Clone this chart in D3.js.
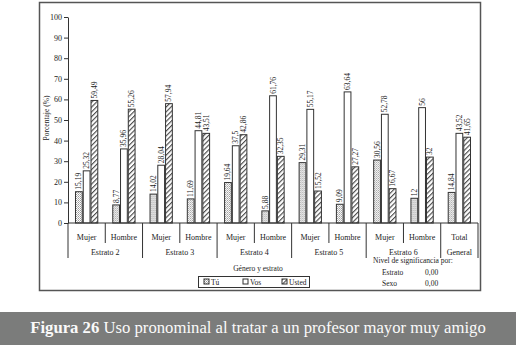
<!DOCTYPE html>
<html lang="es">
<head>
  <meta charset="UTF-8">
  <script src="https://cdn.jsdelivr.net/npm/d3@7"></script>
  <title>Figura 26</title>
  <style>
    body { margin: 0; background: #fff; }
    text { font-family: "Liberation Serif", "Times New Roman", serif; fill: #222; }
  </style>
</head>
<body>
  <svg width="516" height="345" id="chart"></svg>
  <script>
    // data
    const estratos = ["Estrato 2", "Estrato 3", "Estrato 4", "Estrato 5", "Estrato 6", "General"];
    const subgroups = ["Mujer", "Hombre", "Mujer", "Hombre", "Mujer", "Hombre", "Mujer", "Hombre", "Mujer", "Hombre", "Total"];
    const series = ["Tú", "Vos", "Usted"];
    const tu    = [15.19, 8.77, 14.02, 11.69, 19.64, 5.88, 29.31, 9.09, 30.56, 12, 14.84];
    const vos   = [25.32, 35.96, 28.04, 44.81, 37.5, 61.76, 55.17, 63.64, 52.78, 56, 43.52];
    const usted = [59.49, 55.26, 57.94, 43.51, 42.86, 32.35, 15.52, 27.27, 16.67, 32, 41.65];
    const yTicks = [0, 10, 20, 30, 40, 50, 60, 70, 80, 90, 100];

    let svg = d3.select("#chart");

    // patterns for the fills
    let defs = svg.append("defs");
    let dots = defs.append("pattern").attr("id", "pTu")
      .attr("width", 2).attr("height", 2).attr("patternUnits", "userSpaceOnUse");
    dots.append("rect").attr("width", 2).attr("height", 2).attr("fill", "#fff");
    dots.append("rect").attr("width", 1).attr("height", 1).attr("fill", "#9a9a9a");
    dots.append("rect").attr("x", 1).attr("y", 1).attr("width", 1).attr("height", 1).attr("fill", "#bbb");

    let hatch = defs.append("pattern").attr("id", "pUsted")
      .attr("width", 3.4).attr("height", 3.4).attr("patternUnits", "userSpaceOnUse")
      .attr("patternTransform", "rotate(45)");
    hatch.append("rect").attr("width", 3.4).attr("height", 3.4).attr("fill", "#fff");
    hatch.append("line").attr("x1", 0.6).attr("y1", 0).attr("x2", 0.6).attr("y2", 3.4)
      .attr("stroke", "#333").attr("stroke-width", 1);

    const fills = { "Tú": "url(#pTu)", "Vos": "#fff", "Usted": "url(#pUsted)" };

    // outer frame
    svg.append("rect")
      .attr("x", 39.5).attr("y", 2.5).attr("width", 441).attr("height", 288)
      .attr("fill", "none").attr("stroke", "#555").attr("stroke-width", 1.5);

    /* SCALES */
    let x = d3.scaleBand().domain(d3.range(subgroups.length)).range([68, 478]);
    let xIn = d3.scaleBand().domain(series).range([0, x.bandwidth()]).paddingOuter(0.9);
    let y = d3.scaleLinear().domain([0, 100]).range([223, 17]);

    let data = subgroups.map((s, i) => ({ i: i, values: [tu[i], vos[i], usted[i]] }));

    /* BARS */
    let groups = svg.selectAll(".grp").data(data).enter().append("g")
      .attr("transform", d => "translate(" + x(d.i) + ",0)");

    groups.selectAll("rect").data(d => d.values.map((v, k) => ({ s: series[k], v: v })))
      .enter().append("rect")
      .attr("x", d => xIn(d.s) + 0.5)
      .attr("y", d => y(d.v))
      .attr("width", xIn.bandwidth() - 1)
      .attr("height", d => y(0) - y(d.v))
      .attr("fill", d => fills[d.s])
      .attr("stroke", "#333").attr("stroke-width", 1);

    groups.selectAll(".lbl").data(d => d.values.map((v, k) => ({ s: series[k], v: v })))
      .enter().append("text")
      .attr("transform", d => "translate(" + (xIn(d.s) + xIn.bandwidth() / 2 + 2.5) + "," + (y(d.v) - 2) + ") rotate(-90)")
      .style("font-size", "7.5px")
      .text(d => String(d.v).replace(".", ","));

    /* Y AXIS */
    let axisY = d3.axisLeft(y).tickValues(yTicks).tickSize(4).tickSizeOuter(0);
    let gy = svg.append("g").attr("transform", "translate(68,0)").call(axisY);
    gy.selectAll("text").style("font-size", "8px").attr("x", -6);
    gy.selectAll("line, path").attr("stroke", "#333");

    svg.append("text")
      .attr("transform", "translate(49,118) rotate(-90)")
      .attr("text-anchor", "middle")
      .style("font-size", "7.5px")
      .text("Porcentaje (%)");

    /* X AXIS */
    svg.append("line").attr("x1", 68).attr("x2", 478).attr("y1", y(0)).attr("y2", y(0))
      .attr("stroke", "#333");

    // separators: short inside an estrato, long between estratos
    let bounds = d3.range(subgroups.length + 1);
    svg.selectAll(".sep").data(bounds).enter().append("line")
      .attr("x1", i => i < subgroups.length ? x(i) : x.range()[1])
      .attr("x2", i => i < subgroups.length ? x(i) : x.range()[1])
      .attr("y1", y(0))
      .attr("y2", i => (i % 2 === 1 && i < 10) ? 243 : 258)
      .attr("stroke", "#333");

    svg.selectAll(".sub").data(subgroups).enter().append("text")
      .attr("x", (d, i) => x(i) + x.bandwidth() / 2)
      .attr("y", 240)
      .attr("text-anchor", "middle")
      .style("font-size", "8px")
      .text(d => d);

    svg.selectAll(".est").data(estratos).enter().append("text")
      .attr("x", (d, i) => i < 5 ? x(i * 2) + x.bandwidth() : x(10) + x.bandwidth() / 2)
      .attr("y", 255)
      .attr("text-anchor", "middle")
      .style("font-size", "8px")
      .text(d => d);

    svg.append("text").attr("x", 258).attr("y", 271)
      .attr("text-anchor", "middle").style("font-size", "7.5px")
      .text("Género y estrato");

    /* LEGEND */
    svg.append("rect").attr("x", 198.5).attr("y", 276.5).attr("width", 111).attr("height", 11)
      .attr("fill", "#fff").attr("stroke", "#333");
    let legX = [204, 243, 282];
    let leg = svg.selectAll(".leg").data(series).enter().append("g")
      .attr("transform", (d, i) => "translate(" + legX[i] + ",279)");
    leg.append("rect").attr("width", 5).attr("height", 5)
      .attr("fill", d => fills[d]).attr("stroke", "#333");
    leg.append("text").attr("x", 7).attr("y", 5.5)
      .style("font-size", "7.5px").text(d => d);

    /* SIGNIFICANCE NOTE */
    svg.append("text").attr("x", 373).attr("y", 263).style("font-size", "7.5px")
      .text("Nivel de significancia por:");
    svg.append("text").attr("x", 382).attr("y", 275).style("font-size", "7.5px").text("Estrato");
    svg.append("text").attr("x", 425).attr("y", 275).style("font-size", "7.5px").text("0,00");
    svg.append("text").attr("x", 382).attr("y", 286).style("font-size", "7.5px").text("Sexo");
    svg.append("text").attr("x", 425).attr("y", 286).style("font-size", "7.5px").text("0,00");

    /* CAPTION */
    svg.append("rect").attr("x", 0).attr("y", 312).attr("width", 516).attr("height", 33)
      .attr("fill", "#7b7c7b");
    let cap = svg.append("text").attr("x", 258).attr("y", 333)
      .attr("text-anchor", "middle").style("font-size", "16.7px");
    cap.append("tspan").style("font-weight", "bold").style("fill", "#fafafa").text("Figura 26");
    cap.append("tspan").style("fill", "#fafafa").text(" Uso pronominal al tratar a un profesor mayor muy amigo");
  </script>
</body>
</html>
